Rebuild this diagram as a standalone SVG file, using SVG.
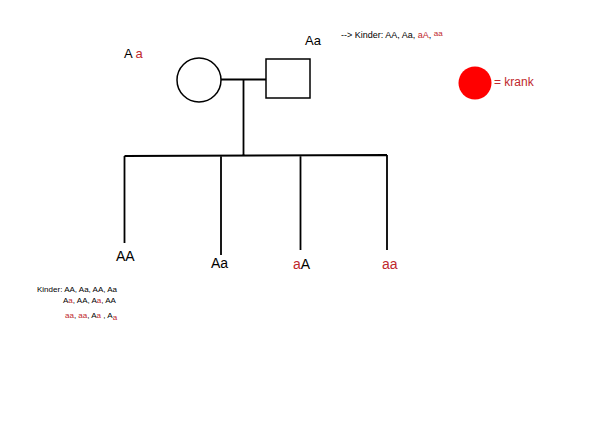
<svg xmlns="http://www.w3.org/2000/svg" width="590" height="443" viewBox="0 0 590 443">
<style>
text{font-family:"Liberation Sans",Arial,sans-serif;fill:#000}
.r{fill:#c0282d}
.ln{stroke:#000;stroke-width:1.8;fill:none}
.s{font-size:9px}
.b{font-size:8px}
</style>
<rect width="590" height="443" fill="#fff"/>
<g id="mother"><circle cx="199" cy="80" r="22" fill="#fff" stroke="#000" stroke-width="1.5"/>
<text x="124" y="58" font-size="13">A <tspan class="r">a</tspan></text></g>
<g id="father"><rect x="266" y="59" width="44" height="39" fill="#fff" stroke="#000" stroke-width="1.5"/>
<text x="305" y="45" font-size="13">Aa</text></g>
<g id="connectors">
<path class="ln" d="M221 79.5H266M243.5 79.5V155.5M124.5 156L387 155M124.5 156V243M221 155.5V255M300.5 155.2V250M387 155V250"/>
</g>
<g id="child1"><text x="116" y="261" font-size="14">AA</text></g>
<g id="child2"><text x="211" y="268" font-size="14">Aa</text></g>
<g id="child3"><text x="293" y="269" font-size="14"><tspan class="r">a</tspan>A</text></g>
<g id="child4"><text x="382" y="269" font-size="14" class="r">aa</text></g>
<g id="note-top"><text x="341" y="38" class="s">--&gt; Kinder: AA, Aa, <tspan class="r">aA</tspan>, <tspan class="r" font-size="8" dy="-2">aa</tspan></text></g>
<g id="legend"><circle cx="475" cy="83" r="16.5" fill="#ff0000"/>
<text x="494" y="86" font-size="12" class="r">= krank</text></g>
<g id="note-bottom">
<text x="37" y="292" class="b">Kinder: AA, Aa, AA, Aa</text>
<text x="63" y="303" class="b">A<tspan class="r">a</tspan>, AA, A<tspan class="r">a</tspan>, AA</text>
<text x="65" y="318" class="b"><tspan class="r">aa</tspan>, <tspan class="r">aa</tspan>, A<tspan class="r">a</tspan> , A<tspan class="r" dy="1.5">a</tspan></text>
</g>
</svg>
